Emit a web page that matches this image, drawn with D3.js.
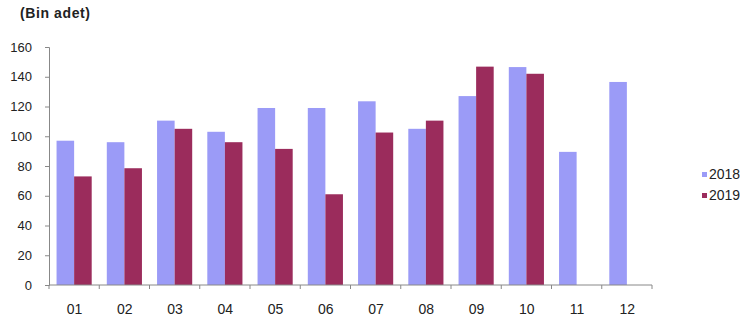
<!DOCTYPE html>
<html>
<head>
<meta charset="utf-8">
<script src="https://cdn.jsdelivr.net/npm/d3@7"></script>
<style>
    body { margin: 0; background: #fff; }
    svg { display: block; font-family: "Liberation Sans", Arial, sans-serif; }
</style>
</head>
<body>
<div id="chart"></div>
<script>
// Monthly values (thousand units)
const months = ['01', '02', '03', '04', '05', '06', '07', '08', '09', '10', '11', '12'];
const series = ['2018', '2019'];
const values2018 = [97, 96, 110.5, 103, 119, 119, 123.5, 105, 127, 146.5, 89.5, 136.5];
const values2019 = [73, 78.5, 105, 96, 91.5, 61, 102.5, 110.5, 146.8, 142, null, null];
const yTicks = [0, 20, 40, 60, 80, 100, 120, 140, 160];
const colors = { '2018': '#9b9bf7', '2019': '#9b2c5c' };

const width = 741;
const height = 324;
const margin = { top: 47, right: 89, bottom: 39, left: 49 };
const chartWidth = width - margin.left - margin.right;
const chartHeight = height - margin.top - margin.bottom;

const data = months.map((m, i) => ({ month: m, '2018': values2018[i], '2019': values2019[i] }));

const svg = d3.select('#chart')
    .append('svg')
    .attr('width', width)
    .attr('height', height);

const g = svg.append('g')
    .attr('transform', `translate(${margin.left},${margin.top})`);

// Scales
const xScale = d3.scaleBand()
    .domain(months)
    .range([0, chartWidth])
    .paddingInner(0)
    .paddingOuter(0);

const inner = d3.scaleBand()
    .domain(series)
    .range([0, xScale.bandwidth()])
    .paddingInner(0)
    .paddingOuter(0.43);

const yScale = d3.scaleLinear()
    .domain([0, 160])
    .range([chartHeight, 0]);

// Bars
const groups = g.selectAll('.group')
    .data(data)
    .enter()
    .append('g')
    .attr('transform', d => `translate(${xScale(d.month)},0)`);

groups.selectAll('rect')
    .data(d => series.filter(s => d[s] != null).map(s => ({ key: s, value: d[s] })))
    .enter()
    .append('rect')
    .attr('x', d => inner(d.key))
    .attr('y', d => yScale(d.value))
    .attr('width', inner.bandwidth())
    .attr('height', d => chartHeight - yScale(d.value))
    .attr('fill', d => colors[d.key]);

// Y axis
const yAxis = g.append('g')
    .call(d3.axisLeft(yScale).tickValues(yTicks).tickSize(4).tickPadding(13));
yAxis.select('.domain').attr('stroke', '#888');
yAxis.selectAll('.tick line').attr('stroke', '#888');
yAxis.selectAll('.tick text')
    .attr('fill', '#222')
    .style('font-size', '13px');

// X axis: ticks at band boundaries
const xAxis = g.append('g')
    .attr('transform', `translate(0,${chartHeight})`);
xAxis.append('line')
    .attr('x1', 0)
    .attr('x2', chartWidth)
    .attr('stroke', '#888');
xAxis.selectAll('.bound')
    .data(months.concat(['end']))
    .enter()
    .append('line')
    .attr('x1', (d, i) => i * xScale.step())
    .attr('x2', (d, i) => i * xScale.step())
    .attr('y1', 0)
    .attr('y2', 4)
    .attr('stroke', '#888');
xAxis.selectAll('.lbl')
    .data(months)
    .enter()
    .append('text')
    .attr('x', d => xScale(d) + xScale.bandwidth() / 2 + 0.5)
    .attr('y', 29)
    .attr('text-anchor', 'middle')
    .attr('fill', '#222')
    .style('font-size', '14px')
    .text(d => d);

// Unit label
svg.append('text')
    .attr('x', 20)
    .attr('y', 18)
    .attr('fill', '#222')
    .style('font-size', '14px')
    .style('font-weight', 'bold')
    .style('letter-spacing', '0.6px')
    .text('(Bin adet)');

// Legend
const legend = svg.append('g')
    .attr('transform', 'translate(702,172)');
legend.selectAll('rect')
    .data(series)
    .enter()
    .append('rect')
    .attr('x', 0)
    .attr('y', (d, i) => i * 21)
    .attr('width', 5)
    .attr('height', 5)
    .attr('fill', d => colors[d]);
legend.selectAll('text')
    .data(series)
    .enter()
    .append('text')
    .attr('x', 7)
    .attr('y', (d, i) => i * 21 + 7)
    .attr('fill', '#222')
    .style('font-size', '14px')
    .text(d => d);
</script>
</body>
</html>
